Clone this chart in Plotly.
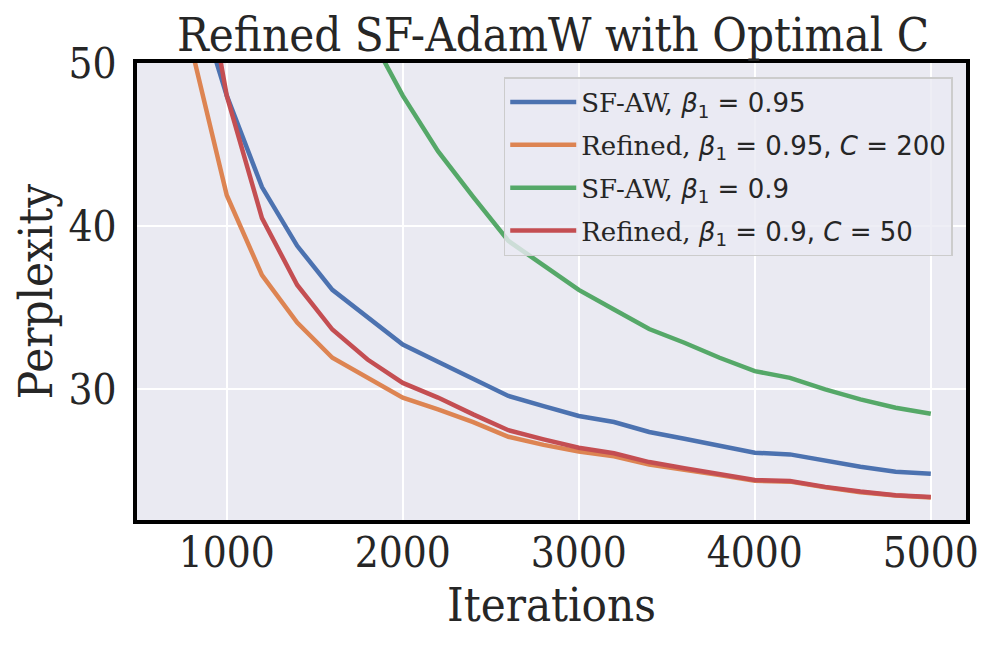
import plotly.graph_objects as go

iters = [800, 1000, 1200, 1400, 1600, 1800, 2000, 2200, 2400, 2600, 2800, 3000,
         3200, 3400, 3600, 3800, 4000, 4200, 4400, 4600, 4800, 5000]

sf_aw_095 = [55.0, 48.0, 42.4, 38.8, 36.1, 34.4, 32.75, 31.7, 30.67, 29.6, 28.98, 28.37,
             28.0, 27.39, 26.98, 26.53, 26.12, 26.02, 25.61, 25.26, 24.96, 24.84]
refined_095 = [50.9, 41.9, 37.0, 34.1, 31.94, 30.7, 29.5, 28.78, 28.0, 27.1, 26.6, 26.2,
               25.9, 25.4, 25.1, 24.75, 24.4, 24.35, 24.0, 23.7, 23.5, 23.38]
sf_aw_09 = [None, None, None, None, 56.5, 52.0, 48.0, 44.6, 41.8, 39.1, 37.6, 36.1,
            34.9, 33.7, 32.86, 31.94, 31.12, 30.71, 30.0, 29.39, 28.88, 28.51]
refined_09 = [60.0, 48.0, 40.5, 36.4, 33.67, 31.83, 30.4, 29.5, 28.47, 27.5, 26.94, 26.43,
              26.09, 25.55, 25.17, 24.8, 24.45, 24.39, 24.03, 23.74, 23.52, 23.41]

M = '<span style="font-family:\'DejaVu Sans\'">'
names = [
    "SF-AW, " + M + "<i>β</i><sub>1</sub> = 0.95</span>",
    "Refined, " + M + "<i>β</i><sub>1</sub> = 0.95, <i>C</i> = 200</span>",
    "SF-AW, " + M + "<i>β</i><sub>1</sub> = 0.9</span>",
    "Refined, " + M + "<i>β</i><sub>1</sub> = 0.9, <i>C</i> = 50</span>",
]
colors = ["#4C72B0", "#DD8452", "#55A868", "#C44E52"]
series = [sf_aw_095, refined_095, sf_aw_09, refined_09]

x_ticks = [1000, 2000, 3000, 4000, 5000]
y_ticks = [30, 40, 50]

fig = go.Figure()
for i, (name, col, ys) in enumerate(zip(names, colors, series)):
    fig.add_trace(go.Scatter(x=iters, y=ys, mode="lines", name=name, legendgroup=str(i),
                             line=dict(color=col, width=4.5), connectgaps=False))

text_color = "#262626"
SERIF = "DejaVu Serif Condensed, DejaVu Serif"
W, H = 990, 638
fig.update_layout(
    width=W, height=H,
    margin=dict(l=129, r=32, t=55, b=126),
    paper_bgcolor="white",
    plot_bgcolor="#EAEAF2",
    font=dict(family=SERIF, color=text_color),
    title=dict(text="Refined SF-AdamW with Optimal C", x=545 / W, xanchor="center",
               y=1 - 27 / H, yanchor="middle", yref="container",
               font=dict(size=47, family=SERIF, color=text_color)),
    xaxis=dict(range=[490, 5200], tickvals=x_ticks, ticktext=[str(v) for v in x_ticks],
               showgrid=True, gridcolor="white", gridwidth=1.8, zeroline=False,
               showline=True, mirror=True, linecolor="black", linewidth=4,
               ticks="", ticklen=0, ticklabelstandoff=-7, automargin=False,
               tickfont=dict(size=42, family=SERIF, color=text_color),
               title=dict(text="Iterations", standoff=11,
                          font=dict(size=47, family=SERIF, color=text_color))),
    yaxis=dict(range=[22, 50], tickvals=y_ticks, ticktext=[str(v) for v in y_ticks],
               showgrid=True, gridcolor="white", gridwidth=1.8, zeroline=False,
               showline=True, mirror=True, linecolor="black", linewidth=4,
               ticks="", ticklabelstandoff=8, automargin=False,
               tickfont=dict(size=42, family=SERIF, color=text_color),
               title=dict(text="Perplexity", standoff=7,
                          font=dict(size=47, family=SERIF, color=text_color))),
    legend=dict(x=0.984, y=0.969, xanchor="right", yanchor="top",
                bgcolor="rgba(234,234,242,0.8)", bordercolor="#CCCCCC", borderwidth=1.5,
                font=dict(size=26, family="DejaVu Serif", color=text_color),
                itemwidth=66, tracegroupgap=6),
    showlegend=True,
)

fig.write_html("out.html")
